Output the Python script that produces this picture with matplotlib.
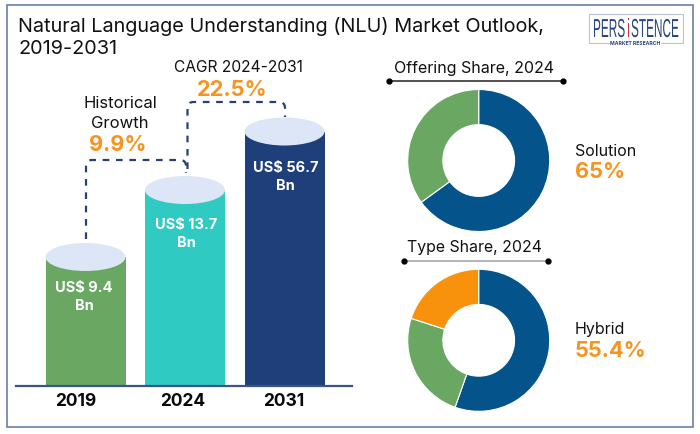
import matplotlib
matplotlib.use('Agg')
import matplotlib.pyplot as plt
import matplotlib.patheffects as pe
from matplotlib.patches import Ellipse, Rectangle, PathPatch
from matplotlib.path import Path
from matplotlib.transforms import Affine2D

years = ['2019', '2024', '2031']
bar_heights = [129, 196, 254.5]  # drawn heights read off the picture, not to scale with values
bar_labels = ['US$ 9.4\nBn', 'US$ 13.7\nBn', 'US$ 56.7\nBn']
bar_colors = ['#6aa763', '#2fcbc3', '#1f3f7a']

offering_shares = [65, 35]
offering_colors = ['#04538a', '#6aa763']
type_shares = [55.4, 24.6, 20]
type_colors = ['#04538a', '#6aa763', '#f8920c']

W, H = 700, 435
ORANGE = '#f7931e'
NAVY = '#2a3f72'
FONT = ['Inter', 'DejaVu Sans']

plt.rcParams['font.family'] = FONT

fig = plt.figure(figsize=(7, 4.35), dpi=100)
ax = fig.add_axes([0, 0, 1, 1])
ax.set_xlim(0, W)
ax.set_ylim(0, H)
ax.axis('off')


# everything below is placed in pixels from the top left corner
def y_(y):
    return H - y


def txt(x, y, s, size, color='#111111', weight='normal', ha='center', **kw):
    ax.text(x, y_(y), s, fontsize=size, color=color, fontweight=weight,
            ha=ha, va='center', **kw)


ax.add_patch(Rectangle((7, y_(428)), 686, 422, fc='white', ec='#6b7ea8', lw=1.2))

txt(18, 26, 'Natural Language Understanding (NLU) Market Outlook,', 14.3, ha='left')
txt(18, 49, '2019-2031', 14.3, ha='left')

# bars
base = y_(387)
centers = [85.5, 185, 284.5]
label_y = [281, 218, 161]
label_x = [84, 186, 285.5]
year_x = [75.5, 183, 283.5]
ax.bar(centers, bar_heights, width=80, bottom=base, color=bar_colors, zorder=2)
for c, h in zip(centers, bar_heights):
    ax.add_patch(Ellipse((c, base + h), 80, 28, fc='#dce6f7', ec='none', zorder=3))
ax.plot([16, 352], [base, base], color='#3a5488', lw=1.6, zorder=4)

for x, y, lab in zip(label_x, label_y, bar_labels):
    ax.text(x, y_(y), lab, fontsize=10.5, color='white', fontweight='bold',
            ha='center', va='top', linespacing=1.4, zorder=5)
for x, yr in zip(year_x, years):
    txt(x, 402, yr, 12.5, color='#0a0a0a', weight='bold')


# dashed connectors with rounded corners
def connector(x0, y0, ytop, x1, y1, r=6):
    verts = [(x0, y_(y0)), (x0, y_(ytop + r)), (x0, y_(ytop)), (x0 + r, y_(ytop)),
             (x1 - r, y_(ytop)), (x1, y_(ytop)), (x1, y_(ytop + r)), (x1, y_(y1))]
    codes = [Path.MOVETO, Path.LINETO, Path.CURVE3, Path.CURVE3,
             Path.LINETO, Path.CURVE3, Path.CURVE3, Path.LINETO]
    ax.add_patch(PathPatch(Path(verts, codes), fc='none', ec=NAVY, lw=1.6,
                           linestyle=(0, (3, 3)), zorder=1))


connector(86, 240, 161, 186, 174)
connector(187.5, 170, 103, 285, 118)

txt(120, 103, 'Historical', 12)
txt(120, 124, 'Growth', 12)
txt(117.5, 145, '9.9%', 15.7, color=ORANGE, weight='bold')
txt(238, 67, 'CAGR 2024-2031', 11.2)
txt(232, 90, '22.5%', 15.7, color=ORANGE, weight='bold')


# donuts
def donut(cx, cy, shares, colors):
    r = 71
    a = fig.add_axes([(cx - r) / W, (H - cy - r) / H, 2 * r / W, 2 * r / H])
    a.pie(shares, colors=colors, startangle=90, counterclock=False, radius=1,
          wedgeprops=dict(width=0.495, edgecolor='white', linewidth=0.8))
    a.set_xlim(-1, 1)
    a.set_ylim(-1, 1)


donut(478.7, 161.5, offering_shares, offering_colors)
donut(478.7, 341.3, type_shares, type_colors)


def heading(x0, x1, y, tx, ty, s, size, color):
    ax.plot([x0, x1], [y_(y), y_(y)], color=color, lw=1.2, zorder=2)
    ax.plot([x0, x1], [y_(y), y_(y)], 'o', color='black', ms=3.5, zorder=3)
    txt(tx, ty, s, size)


heading(389, 563, 82, 474, 69, 'Offering Share, 2024', 11.5, '#333333')
heading(404, 548, 262, 474, 248, 'Type Share, 2024', 11.4, '#a8a8a8')

txt(575, 151, 'Solution', 11.5, ha='left')
txt(575, 172, '65%', 15.7, color=ORANGE, weight='bold', ha='left')
txt(575, 330, 'Hybrid', 11.5, ha='left')
txt(575, 351, '55.4%', 15.7, color=ORANGE, weight='bold', ha='left')


# logo letters are tall and narrow, stretch them upwards from the baseline
class Tall(pe.AbstractPathEffect):
    def __init__(self, sy, y0):
        super().__init__()
        self.sy = sy
        self.y0 = y0

    def draw_path(self, renderer, gc, tpath, affine, rgbFace=None):
        affine = affine + Affine2D().translate(0, -self.y0).scale(1, self.sy).translate(0, self.y0)
        renderer.draw_path(gc, tpath, affine, rgbFace)


ax.add_patch(Rectangle((588.5, y_(44)), 94, 29, fc='white', ec='#b8c2d8', lw=0.8))
logo_base = 38
for x, s, c in [(593, 'PERS', '#27457f'), (627, 'i', '#c8323c'), (631, 'STENCE', '#27457f')]:
    ax.text(x, y_(logo_base), s, fontsize=8.5, color=c, ha='left', va='baseline',
            family='Liberation Sans', path_effects=[Tall(2.2, y_(logo_base))])
ax.text(635.5, y_(43.5), 'MARKET RESEARCH', fontsize=3.6, color='#27457f', ha='center', va='center',
        fontweight='bold', bbox=dict(fc='white', ec='none', pad=0.5))

fig.savefig('out.png', dpi=100)
